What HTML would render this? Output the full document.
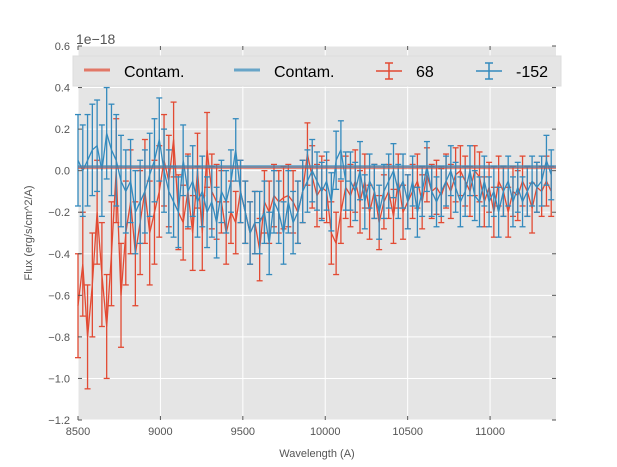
<!DOCTYPE html>
<html><head><meta charset="utf-8"><style>body{margin:0;background:#fff}svg{display:block;font-family:"Liberation Sans",sans-serif}</style></head>
<body>
<svg id="chart" width="617" height="467" viewBox="0 0 617 467"></svg>
<script>
const xStart = 8500, xStep = 29;
const redFlux = [-0.65,-0.45,-0.8,-0.55,-0.2,-0.5,-0.75,-0.4,0.0,-0.6,
-0.3,-0.15,-0.4,-0.25,-0.1,-0.3,-0.2,-0.1,0.05,-0.05,
0.15,-0.2,-0.25,-0.1,-0.3,0.0,-0.3,0.1,-0.1,-0.15,
-0.15,-0.3,-0.2,-0.25,-0.1,-0.2,-0.3,-0.25,-0.38,-0.15,
-0.2,-0.12,-0.15,-0.13,-0.12,-0.15,-0.2,-0.1,0.08,-0.03,
-0.12,-0.08,-0.1,-0.3,-0.35,-0.2,-0.08,-0.12,-0.05,-0.15,
-0.05,-0.2,-0.1,-0.25,-0.15,-0.1,-0.22,-0.05,-0.2,-0.15,
-0.1,-0.05,-0.15,-0.02,-0.1,-0.08,-0.12,-0.05,-0.1,-0.02,
0.0,-0.05,-0.1,0.0,-0.03,-0.15,-0.08,-0.2,-0.05,-0.1,
-0.2,-0.1,-0.12,-0.05,-0.1,-0.18,-0.08,-0.1,-0.05,-0.1];
const redErr = [0.25,0.25,0.25,0.25,0.25,0.25,0.25,0.25,0.25,0.25,0.25,0.25,0.25,0.25,0.25,0.25,0.25,0.22,0.22,0.22,
0.18,0.18,0.18,0.18,0.18,0.18,0.18,0.18,0.18,0.18,0.15,0.15,0.15,0.15,0.15,0.15,0.15,0.15,0.15,0.15,
0.15,0.15,0.15,0.15,0.15,0.15,0.15,0.15,0.15,0.15,0.15,0.15,0.15,0.15,0.15,0.15,0.15,0.15,0.15,0.15,
0.13,0.13,0.13,0.13,0.13,0.13,0.13,0.13,0.13,0.13,0.13,0.13,0.13,0.13,0.13,0.13,0.13,0.13,0.13,0.13,
0.12,0.12,0.12,0.12,0.12,0.12,0.12,0.12,0.12,0.12,0.12,0.12,0.12,0.12,0.12,0.12,0.12,0.12,0.12,0.12];
const blueFlux = [0.05,0.0,0.05,0.1,0.12,0.0,0.18,0.1,0.05,-0.05,
-0.1,-0.05,-0.2,-0.15,-0.1,-0.02,0.05,0.15,0.0,-0.1,
-0.15,-0.2,0.05,-0.1,-0.05,-0.15,-0.1,-0.2,-0.15,-0.25,
-0.1,-0.15,-0.05,0.1,-0.1,-0.2,-0.3,-0.25,-0.25,-0.2,
-0.35,-0.15,-0.2,-0.3,-0.15,-0.25,-0.2,-0.1,-0.05,0.0,
-0.05,-0.1,-0.05,-0.15,0.05,0.1,-0.05,-0.05,-0.1,0.0,
-0.15,-0.05,-0.1,-0.2,-0.1,-0.05,0.0,-0.1,-0.05,-0.15,
-0.05,-0.2,-0.1,0.02,-0.1,-0.15,-0.1,-0.05,0.0,-0.08,
-0.15,-0.1,0.0,-0.12,-0.15,-0.05,-0.15,-0.1,-0.2,-0.1,
-0.05,-0.15,-0.08,-0.15,-0.1,-0.05,-0.08,-0.05,0.05,-0.02];
const blueErr = [0.22,0.22,0.22,0.22,0.22,0.22,0.22,0.22,0.22,0.22,0.2,0.2,0.2,0.2,0.2,0.2,0.2,0.2,0.2,0.2,
0.17,0.17,0.17,0.17,0.17,0.17,0.17,0.17,0.17,0.17,0.15,0.15,0.15,0.15,0.15,0.15,0.15,0.15,0.15,0.15,
0.15,0.15,0.15,0.15,0.15,0.15,0.15,0.15,0.15,0.15,0.14,0.14,0.14,0.14,0.14,0.14,0.14,0.14,0.14,0.14,
0.13,0.13,0.13,0.13,0.13,0.13,0.13,0.13,0.13,0.13,0.12,0.12,0.12,0.12,0.12,0.12,0.12,0.12,0.12,0.12,
0.12,0.12,0.12,0.12,0.12,0.12,0.12,0.12,0.12,0.12,0.12,0.12,0.12,0.12,0.12,0.12,0.12,0.12,0.12,0.12];
const contamRed = 0.015, contamBlue = 0.02;
const xTicks = [8500,9000,9500,10000,10500,11000];
const yTicks = [0.6,0.4,0.2,0.0,-0.2,-0.4,-0.6,-0.8,-1.0,-1.2];
const yTickLabels = ["0.6","0.4","0.2","0.0","\u22120.2","\u22120.4","\u22120.6","\u22120.8","\u22121.0","\u22121.2"];

const L=78,R=556,T=46,B=420, xMin=8500,xMax=11400,yMin=-1.2,yMax=0.6;
const X=v=>L+(v-xMin)/(xMax-xMin)*(R-L);
const Y=v=>B-(v-yMin)/(yMax-yMin)*(B-T);
const svg=document.getElementById('chart');
const NS='http://www.w3.org/2000/svg';
function mk(tag,a,parent){const e=document.createElementNS(NS,tag);for(const k in a)e.setAttribute(k,a[k]);(parent||svg).appendChild(e);return e;}

const bg=mk('rect',{x:L,y:T,width:R-L,height:B-T,fill:'#e5e5e5'});


const grid=mk('g',{stroke:'#fff','stroke-width':1});


xTicks.forEach(t=>mk('line',{x1:X(t),x2:X(t),y1:T,y2:B},grid));
yTicks.forEach(t=>mk('line',{x1:L,x2:R,y1:Y(t),y2:Y(t)},grid));

function series(flux,err,color,name){
  const g=mk('g',{stroke:color,fill:'none','stroke-width':1.3});
  
  
  let d='';
  flux.forEach((v,i)=>{const x=X(xStart+i*xStep);
    const y1=Y(v+err[i]),y2=Y(v-err[i]);
    mk('line',{x1:x,x2:x,y1:y1,y2:y2},g);
    mk('line',{x1:x-3,x2:x+3,y1:y1,y2:y1},g);
    mk('line',{x1:x-3,x2:x+3,y1:y2,y2:y2},g);
    d+=(i?'L':'M')+x.toFixed(1)+' '+Y(v).toFixed(1);});
  mk('path',{d:d},g);
}
series(redFlux,redErr,'#e24a33','series-68');
series(blueFlux,blueErr,'#348abd','series-minus-152');
const c1=mk('line',{x1:L,x2:R,y1:Y(contamRed),y2:Y(contamRed),stroke:'#e24a33','stroke-width':3,opacity:0.6});


const c2=mk('line',{x1:L,x2:R,y1:Y(contamBlue),y2:Y(contamBlue),stroke:'#348abd','stroke-width':3,opacity:0.6});



const ax=mk('g',{'font-size':11,fill:'#555'});


xTicks.forEach(t=>{const e=mk('text',{x:X(t),y:B+15,'text-anchor':'middle'},ax);e.textContent=t;
  mk('line',{x1:X(t),x2:X(t),y1:B,y2:B-4,stroke:'#555'},ax);mk('line',{x1:X(t),x2:X(t),y1:T,y2:T+4,stroke:'#555'},ax);});
yTicks.forEach((t,i)=>{const e=mk('text',{x:L-8,y:Y(t)+4,'text-anchor':'end'},ax);e.textContent=yTickLabels[i];
  mk('line',{x1:L,x2:L+4,y1:Y(t),y2:Y(t),stroke:'#555'},ax);mk('line',{x1:R,x2:R-4,y1:Y(t),y2:Y(t),stroke:'#555'},ax);});
const xl=mk('text',{x:(L+R)/2,y:457,'text-anchor':'middle','font-size':11,fill:'#555'});xl.textContent='Wavelength (A)';


const yl=mk('text',{x:0,y:0,'text-anchor':'middle','font-size':11,fill:'#555',transform:'translate(32,233) rotate(-90)'});yl.textContent='Flux (erg/s/cm^2/A)';


const off=mk('text',{x:76,y:44,'font-size':14,fill:'#555'});off.textContent='1e\u221218';



const lg=mk('g',{});


mk('rect',{x:73,y:56,width:488,height:30,fill:'#e5e5e5',stroke:'#ddd'},lg);
function entry(x,color,label,isErr,name){
  const g=mk('g',{},lg);
  
  
  if(isErr){mk('line',{x1:x,x2:x+26,y1:71,y2:71,stroke:color,'stroke-width':1.5},g);
    mk('line',{x1:x+13,x2:x+13,y1:63,y2:79,stroke:color,'stroke-width':1.5},g);
    mk('line',{x1:x+9,x2:x+17,y1:63,y2:63,stroke:color,'stroke-width':1.5},g);
    mk('line',{x1:x+9,x2:x+17,y1:79,y2:79,stroke:color,'stroke-width':1.5},g);}
  else mk('line',{x1:x,x2:x+26,y1:70,y2:70,stroke:color,'stroke-width':3,opacity:0.7},g);
  const t=mk('text',{x:x+40,y:77,'font-size':16,fill:'#000'},g);t.textContent=label;
}
entry(84,'#e24a33','Contam.',false,'legend-contam-red');
entry(234,'#348abd','Contam.',false,'legend-contam-blue');
entry(376,'#e24a33','68',true,'legend-68');
entry(476,'#348abd','-152',true,'legend-minus-152');
</script>
</body></html>
